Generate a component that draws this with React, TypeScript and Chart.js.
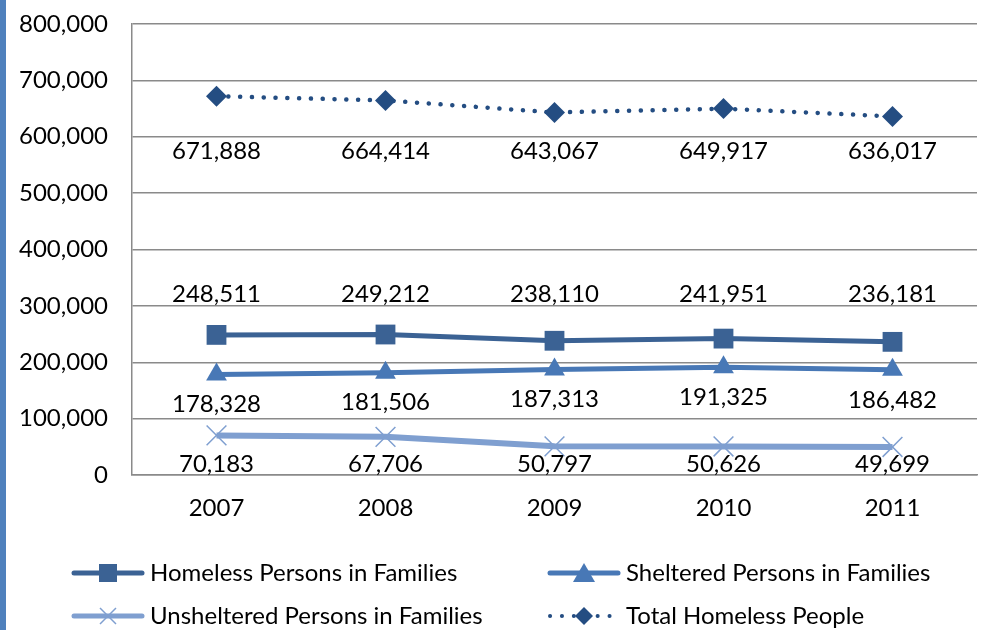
import React, { useEffect, useRef } from "react";
import { Chart, registerables } from "chart.js";

Chart.register(...registerables);

const years = ["2007", "2008", "2009", "2010", "2011"];
const homeless = [248511, 249212, 238110, 241951, 236181];
const sheltered = [178328, 181506, 187313, 191325, 186482];
const unsheltered = [70183, 67706, 50797, 50626, 49699];
const totalHomeless = [671888, 664414, 643067, 649917, 636017];
const seriesNames = [
  "Homeless Persons in Families",
  "Sheltered Persons in Families",
  "Unsheltered Persons in Families",
  "Total Homeless People",
];

const FONT = "Lato, 'Open Sans', sans-serif";
const FS = 24;

const C_HOME = "#3b6294";
const C_SHEL = "#4878b6";
const C_UNSH = "#7f9fd0";
const C_TOT = "#244d82";

// label placement: either anchored to a value level or offset in px from point
const labelPlacement = [
  { anchor: 320000 },
  { offset: 30 },
  { anchor: 19500 },
  { anchor: 575000 },
];

function fmt(v: number) {
  return v.toLocaleString("en-US");
}

function drawMarker(ctx: CanvasRenderingContext2D, kind: string, x: number, y: number, s: number, color: string) {
  ctx.save();
  ctx.fillStyle = color;
  ctx.strokeStyle = color;
  ctx.setLineDash([]);
  ctx.beginPath();
  if (kind === "square") {
    ctx.rect(x - s / 2, y - s / 2, s, s);
    ctx.fill();
  } else if (kind === "triangle") {
    ctx.moveTo(x, y - s * 0.5);
    ctx.lineTo(x + s * 0.55, y + s * 0.45);
    ctx.lineTo(x - s * 0.55, y + s * 0.45);
    ctx.closePath();
    ctx.fill();
  } else if (kind === "diamond") {
    ctx.moveTo(x, y - s / 2);
    ctx.lineTo(x + s / 2, y);
    ctx.lineTo(x, y + s / 2);
    ctx.lineTo(x - s / 2, y);
    ctx.closePath();
    ctx.fill();
  } else if (kind === "x") {
    ctx.lineWidth = 1.5;
    ctx.moveTo(x - s / 2, y - s / 2);
    ctx.lineTo(x + s / 2, y + s / 2);
    ctx.moveTo(x + s / 2, y - s / 2);
    ctx.lineTo(x - s / 2, y + s / 2);
    ctx.stroke();
  }
  ctx.restore();
}

const customPlugin = {
  id: "custom",
  beforeDraw(chart: any) {
    const ctx = chart.ctx;
    ctx.save();
    ctx.fillStyle = "#4f81bd";
    ctx.fillRect(0, 0, 6, chart.height);
    ctx.restore();
  },
  afterDatasetsDraw(chart: any) {
    const ctx = chart.ctx;
    const yScale = chart.scales.y;
    ctx.save();
    ctx.font = `${FS}px ${FONT}`;
    ctx.fillStyle = "#000";
    ctx.textAlign = "center";
    ctx.textBaseline = "middle";
    chart.data.datasets.forEach((ds: any, di: number) => {
      const meta = chart.getDatasetMeta(di);
      const pl: any = labelPlacement[di];
      meta.data.forEach((pt: any, i: number) => {
        const v = ds.data[i] as number;
        const y = pl.anchor !== undefined ? yScale.getPixelForValue(pl.anchor) : pt.y + pl.offset;
        ctx.fillText(fmt(v), pt.x, y);
      });
    });
    ctx.restore();
  },
  afterDraw(chart: any) {
    const ctx = chart.ctx;
    const items = [
      { x: 72, y: 573, color: C_HOME, marker: "square", ms: 18, lw: 5, dotted: false, name: seriesNames[0] },
      { x: 548, y: 573, color: C_SHEL, marker: "triangle", ms: 20, lw: 5, dotted: false, name: seriesNames[1] },
      { x: 72, y: 616, color: C_UNSH, marker: "x", ms: 16, lw: 5, dotted: false, name: seriesNames[2] },
      { x: 548, y: 616, color: C_TOT, marker: "diamond", ms: 18, lw: 4, dotted: true, name: seriesNames[3] },
    ];
    ctx.save();
    items.forEach((it) => {
      ctx.save();
      ctx.strokeStyle = it.color;
      ctx.lineWidth = it.lw;
      ctx.lineCap = "round";
      if (it.dotted) ctx.setLineDash([0.1, 11.8]);
      ctx.beginPath();
      ctx.moveTo(it.x + 2, it.y);
      ctx.lineTo(it.x + 70, it.y);
      ctx.stroke();
      ctx.restore();
      drawMarker(ctx, it.marker, it.x + 36, it.y, it.ms, it.color);
      ctx.font = `${FS}px ${FONT}`;
      ctx.fillStyle = "#000";
      ctx.textAlign = "left";
      ctx.textBaseline = "middle";
      ctx.fillText(it.name, it.x + 78, it.y);
    });
    ctx.restore();
  },
};

export default function App() {
  const ref = useRef<HTMLCanvasElement>(null);
  useEffect(() => {
    document.body.style.margin = "0";
    const chart = new Chart(ref.current!, {
      type: "line",
      data: {
        labels: years,
        datasets: [
          {
            label: seriesNames[0],
            data: homeless,
            borderColor: C_HOME,
            backgroundColor: C_HOME,
            borderWidth: 5,
            pointStyle: "rect",
            pointRadius: 14,
            pointBorderWidth: 0,
            pointBackgroundColor: C_HOME,
            tension: 0,
          },
          {
            label: seriesNames[1],
            data: sheltered,
            borderColor: C_SHEL,
            backgroundColor: C_SHEL,
            borderWidth: 5,
            pointStyle: "triangle",
            pointRadius: 12,
            pointBorderWidth: 0,
            pointBackgroundColor: C_SHEL,
            tension: 0,
          },
          {
            label: seriesNames[2],
            data: unsheltered,
            borderColor: C_UNSH,
            backgroundColor: C_UNSH,
            borderWidth: 6,
            pointStyle: "crossRot",
            pointRadius: 14,
            pointBorderWidth: 1.5,
            pointBorderColor: C_UNSH,
            tension: 0,
          },
          {
            label: seriesNames[3],
            data: totalHomeless,
            borderColor: C_TOT,
            backgroundColor: C_TOT,
            borderWidth: 4.5,
            borderDash: [0.1, 11.7],
            borderCapStyle: "round",
            pointStyle: "rectRot",
            pointRadius: 10.5,
            pointBorderWidth: 0,
            pointBackgroundColor: C_TOT,
            tension: 0,
          },
        ],
      },
      options: {
        animation: false,
        responsive: true,
        maintainAspectRatio: false,
        layout: { autoPadding: false, padding: { left: 0, right: 6, top: 24, bottom: 0 } },
        plugins: {
          legend: { display: false },
          tooltip: { enabled: false },
          title: { display: false },
        },
        scales: {
          x: {
            type: "category",
            offset: true,
            grid: { display: false, drawTicks: false },
            border: { display: true, color: "#8a8a8a", width: 1.5 },
            ticks: { color: "#000", font: { family: FONT, size: FS }, padding: 19 },
            afterFit: (s: any) => {
              s.height = 155;
              s.paddingLeft = 0;
              s.paddingRight = 0;
            },
          },
          y: {
            min: 0,
            max: 800000,
            ticks: {
              stepSize: 100000,
              color: "#000",
              font: { family: FONT, size: FS },
              padding: 24,
              callback: (v: any) => fmt(Number(v)),
            },
            grid: { color: "#8a8a8a", lineWidth: 1.5, drawTicks: false },
            border: { display: true, color: "#8a8a8a", width: 1.5 },
            afterFit: (s: any) => {
              s.width = 132;
              s.paddingTop = 0;
              s.paddingBottom = 0;
            },
          },
        },
      },
      plugins: [customPlugin],
    });
    return () => chart.destroy();
  }, []);
  return (
    <div style={{ width: 983, height: 630, position: "relative" }}>
      <canvas ref={ref} />
    </div>
  );
}
